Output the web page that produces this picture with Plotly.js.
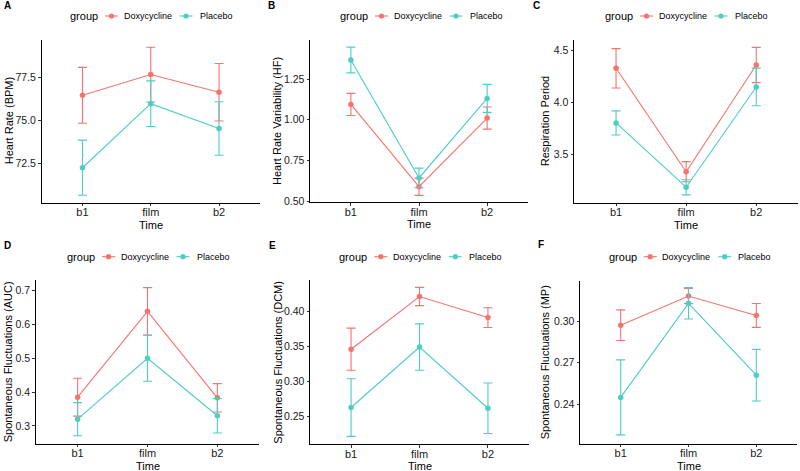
<!DOCTYPE html>
<html>
<head>
<meta charset="utf-8">
<script src="https://cdn.plot.ly/plotly-3.0.1.min.js"></script>
<style>
  html, body { margin: 0; padding: 0; background: #ffffff; }
  #chart { width: 800px; height: 471px; }
</style>
</head>
<body>
<div id="chart"></div>
<script>
// Measurement time points
const times = ['b1', 'film', 'b2'];
const groups = ['Doxycycline', 'Placebo'];

// A: heart rate (BPM), mean and error
const hrDoxy = [76.47, 77.68, 76.65];
const hrDoxyErr = [1.63, 1.60, 1.68];
const hrPlac = [72.24, 75.98, 74.53];
const hrPlacErr = [1.61, 1.33, 1.56];

// B: heart rate variability (HF)
const hfDoxy = [1.094, 0.588, 1.010];
const hfDoxyErr = [0.068, 0.053, 0.068];
const hfPlac = [1.367, 0.642, 1.131];
const hfPlacErr = [0.079, 0.060, 0.086];

// C: respiration period
const rpDoxy = [4.330, 3.332, 4.362];
const rpDoxyErr = [0.190, 0.097, 0.170];
const rpPlac = [3.803, 3.182, 4.150];
const rpPlacErr = [0.116, 0.073, 0.182];

// D: spontaneous fluctuations (AUC)
const aucDoxy = [0.385, 0.639, 0.383];
const aucDoxyErr = [0.056, 0.070, 0.042];
const aucPlac = [0.320, 0.500, 0.330];
const aucPlacErr = [0.049, 0.068, 0.051];

// E: spontaneous fluctuations (DCM)
const dcmDoxy = [0.346, 0.421, 0.391];
const dcmDoxyErr = [0.030, 0.013, 0.014];
const dcmPlac = [0.263, 0.349, 0.262];
const dcmPlacErr = [0.041, 0.033, 0.036];

// F: spontaneous fluctuations (MP)
const mpDoxy = [0.2970, 0.3180, 0.3040];
const mpDoxyErr = [0.0110, 0.0055, 0.0086];
const mpPlac = [0.2450, 0.3127, 0.2610];
const mpPlacErr = [0.0270, 0.0113, 0.0186];

// Y tick values per panel
const hrTicks = [72.5, 75.0, 77.5];
const hfTicks = [0.50, 0.75, 1.00, 1.25];
const rpTicks = [3.5, 4.0, 4.5];
const aucTicks = [0.3, 0.4, 0.5, 0.6, 0.7];
const dcmTicks = [0.25, 0.30, 0.35, 0.40];
const mpTicks = [0.24, 0.27, 0.30];

const W = 800, H = 471;
const COLORS = ['#F5746D', '#4ECDC4'];
const FONT = 'Liberation Sans, Arial, Helvetica, sans-serif';
const px = x => x / W;
const py = y => 1 - y / H;

// Panel geometry in pixels (plot box, title positions, legend start)
const panels = [
  { letter: 'A', ytitle: 'Heart Rate (BPM)', doxy: hrDoxy, doxyErr: hrDoxyErr, plac: hrPlac, placErr: hrPlacErr,
    ticks: hrTicks, fmt: '.1f', range: [70.21, 79.70],
    box: [41.5, 260, 40, 202.5], ytx: 9, letterPos: [2, 6], legend: [69, 16] },
  { letter: 'B', ytitle: 'Heart Rate Variability (HF)', doxy: hfDoxy, doxyErr: hfDoxyErr, plac: hfPlac, placErr: hfPlacErr,
    ticks: hfTicks, fmt: '.2f', range: [0.494, 1.490],
    box: [310, 528, 40, 202], ytx: 277, letterPos: [266, 6], legend: [339, 16] },
  { letter: 'C', ytitle: 'Respiration Period', doxy: rpDoxy, doxyErr: rpDoxyErr, plac: rpPlac, placErr: rpPlacErr,
    ticks: rpTicks, fmt: '.1f', range: [3.035, 4.603],
    box: [574, 798.3, 40, 202.5], ytx: 545, letterPos: [531, 6], legend: [604, 16] },
  { letter: 'D', ytitle: 'Spontaneous Fluctuations (AUC)', doxy: aucDoxy, doxyErr: aucDoxyErr, plac: aucPlac, placErr: aucPlacErr,
    ticks: aucTicks, fmt: '.1f', range: [0.248, 0.7316],
    box: [35.7, 259.3, 280, 443.5], ytx: 7.5, letterPos: [1.5, 245], legend: [66, 256.7] },
  { letter: 'E', ytitle: 'Spontaneous Fluctuations (DCM)', doxy: dcmDoxy, doxyErr: dcmDoxyErr, plac: dcmPlac, placErr: dcmPlacErr,
    ticks: dcmTicks, fmt: '.2f', range: [0.2111, 0.4445],
    box: [310, 529, 280, 444], ytx: 277.7, letterPos: [266.5, 245], legend: [338.3, 256.7] },
  { letter: 'F', ytitle: 'Spontaneous Fluctuations (MP)', doxy: mpDoxy, doxyErr: mpDoxyErr, plac: mpPlac, placErr: mpPlacErr,
    ticks: mpTicks, fmt: '.2f', range: [0.2118, 0.3288],
    box: [580, 797, 281, 443.5], ytx: 545, letterPos: [536, 244], legend: [607.7, 256.7] }
];

const data = [];
const layout = {
  width: W, height: H,
  margin: { l: 0, r: 0, t: 0, b: 0, pad: 0 },
  paper_bgcolor: '#ffffff', plot_bgcolor: '#ffffff',
  showlegend: false,
  font: { family: FONT, color: '#000000' },
  annotations: [], shapes: []
};

panels.forEach((p, i) => {
  const n = i === 0 ? '' : String(i + 1);
  const xa = 'x' + n, ya = 'y' + n;
  const [x0, x1, y0, y1] = p.box;

  const series = [[p.doxy, p.doxyErr], [p.plac, p.placErr]];
  series.forEach(([vals, errs], g) => {
    data.push({
      type: 'scatter', mode: 'lines+markers',
      x: times, y: vals, xaxis: xa, yaxis: ya,
      name: groups[g],
      line: { color: COLORS[g], width: 1.1 },
      marker: { color: COLORS[g], size: 5.5 },
      error_y: { type: 'data', array: errs, visible: true, color: COLORS[g], thickness: 1.1, width: 4.5 },
      hoverinfo: 'x+y+name'
    });
  });

  layout['xaxis' + n] = {
    domain: [px(x0), px(x1)], anchor: ya,
    type: 'category', categoryorder: 'array', categoryarray: times,
    range: [-0.6, 2.6],
    showline: true, linecolor: '#000000', linewidth: 1,
    ticks: 'outside', ticklen: 2.5, tickwidth: 1, tickcolor: '#333333',
    ticklabelstandoff: -3,
    showgrid: false, zeroline: false, fixedrange: true,
    tickfont: { family: FONT, size: 11, color: '#1a1a1a' }
  };
  layout['yaxis' + n] = {
    domain: [py(y1), py(y0)], anchor: xa,
    range: p.range, tickvals: p.ticks, tickformat: p.fmt,
    showline: true, linecolor: '#000000', linewidth: 1,
    ticks: 'outside', ticklen: 2.5, tickwidth: 1, tickcolor: '#333333',
    showgrid: false, zeroline: false, fixedrange: true,
    tickfont: { family: FONT, size: 10.5, color: '#1a1a1a' }
  };

  // Axis titles
  layout.annotations.push({
    xref: 'paper', yref: 'paper', x: px((x0 + x1) / 2), y: py(y1 + 22),
    text: 'Time', showarrow: false, xanchor: 'center', yanchor: 'middle',
    font: { family: FONT, size: 11, color: '#000000' }
  });
  layout.annotations.push({
    xref: 'paper', yref: 'paper', x: px(p.ytx), y: py((y0 + y1) / 2),
    text: p.ytitle, showarrow: false, textangle: -90, xanchor: 'center', yanchor: 'middle',
    font: { family: FONT, size: 11, color: '#000000' }
  });
  // Panel letter
  layout.annotations.push({
    xref: 'paper', yref: 'paper', x: px(p.letterPos[0]), y: py(p.letterPos[1]),
    text: '<b>' + p.letter + '</b>', showarrow: false, xanchor: 'left', yanchor: 'middle',
    font: { family: FONT, size: 10, color: '#000000' }
  });

  // Legend row: "group" title, then a key (line + dot) and label for each group
  const [lx, ly] = p.legend;
  layout.annotations.push({
    xref: 'paper', yref: 'paper', x: px(lx - 1), y: py(ly),
    text: 'group', showarrow: false, xanchor: 'left', yanchor: 'middle',
    font: { family: FONT, size: 11, color: '#000000' }
  });
  const keyOffsets = [42.5, 117];
  const labelOffsets = [53.5, 129.5];
  groups.forEach((gname, g) => {
    const kx = lx + keyOffsets[g];
    layout.shapes.push({
      type: 'line', xref: 'paper', yref: 'paper',
      x0: px(kx - 6.5), x1: px(kx + 6.5), y0: py(ly), y1: py(ly),
      line: { color: COLORS[g], width: 1.1 }
    });
    layout.shapes.push({
      type: 'circle', xref: 'paper', yref: 'paper',
      x0: px(kx - 2.6), x1: px(kx + 2.6), y0: py(ly - 2.6), y1: py(ly + 2.6),
      fillcolor: COLORS[g], line: { color: COLORS[g], width: 0 }
    });
    layout.annotations.push({
      xref: 'paper', yref: 'paper', x: px(lx + labelOffsets[g] - 1), y: py(ly),
      text: gname, showarrow: false, xanchor: 'left', yanchor: 'middle',
      font: { family: FONT, size: 9, color: '#000000' }
    });
  });
});

Plotly.newPlot('chart', data, layout, { staticPlot: true, displayModeBar: false });
</script>
</body>
</html>
